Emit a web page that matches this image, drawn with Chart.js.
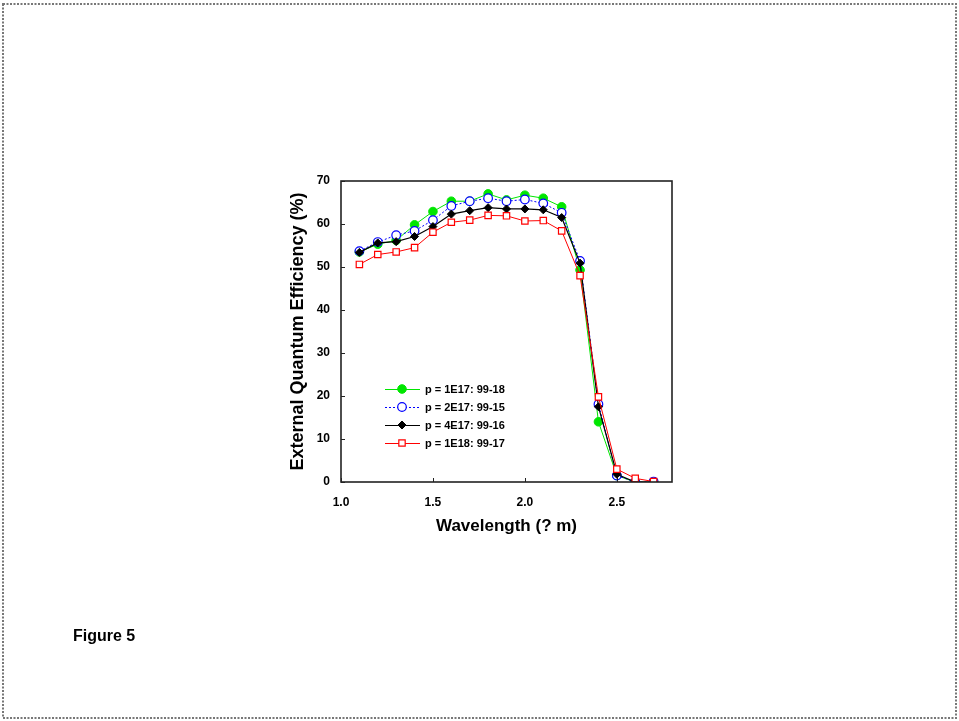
<!DOCTYPE html>
<html>
<head>
<meta charset="utf-8">
<title>Figure 5</title>
<script src="https://cdn.jsdelivr.net/npm/chart.js@4"></script>
<style>
    html, body { margin: 0; padding: 0; background: #fff; }
    #wrap { position: relative; width: 959px; height: 721px; }
</style>
</head>
<body>
<div id="wrap"><canvas id="eqeChart" width="959" height="721"></canvas></div>
<script>
// Wavelength (um) sampled in the measurement
const wavelengths = [1.1, 1.2, 1.3, 1.4, 1.5, 1.6, 1.7, 1.8, 1.9, 2.0, 2.1, 2.2, 2.3, 2.4, 2.5, 2.6, 2.7];

// External quantum efficiency (%) per sample
const eqe_1e17 = [53.5, 55.3, 56.2, 59.8, 62.9, 65.3, 65.3, 67.0, 65.6, 66.7, 66.0, 64.0, 49.3, 14.0, 1.5, 0.0, 0.0];
const eqe_2e17 = [53.7, 55.8, 57.4, 58.4, 60.9, 64.2, 65.3, 66.0, 65.3, 65.7, 64.8, 62.6, 51.4, 18.1, 1.5, 0.0, 0.1];
const eqe_4e17 = [53.4, 55.6, 55.9, 57.1, 59.4, 62.3, 63.1, 63.8, 63.5, 63.5, 63.3, 61.5, 50.9, 17.5, 1.8, 0.0, 0.0];
const eqe_1e18 = [50.6, 52.9, 53.5, 54.5, 58.1, 60.4, 60.9, 62.0, 61.9, 60.7, 60.8, 58.4, 48.0, 19.8, 3.0, 0.85, 0.1];

const seriesLabels = ["p = 1E17: 99-18", "p = 2E17: 99-15", "p = 4E17: 99-16", "p = 1E18: 99-17"];

const xTicks = [1.0, 1.5, 2.0, 2.5];
const yTicks = [0, 10, 20, 30, 40, 50, 60, 70];

const FONT = "Arial, 'Liberation Sans', sans-serif";

function toPoints(values) {
    return wavelengths.map((w, i) => ({ x: w, y: values[i] }));
}

const datasets = [
    {
        label: seriesLabels[0],
        data: toPoints(eqe_1e17),
        borderColor: "#00e600",
        backgroundColor: "#00e600",
        borderWidth: 1,
        pointStyle: "circle",
        pointRadius: 4.3,
        pointBorderWidth: 1,
        order: 4,
    },
    {
        label: seriesLabels[1],
        data: toPoints(eqe_2e17),
        borderColor: "#0000ff",
        backgroundColor: "#ffffff",
        borderWidth: 1,
        borderDash: [2, 2],
        pointStyle: "circle",
        pointRadius: 4.3,
        pointBorderWidth: 1.2,
        order: 3,
    },
    {
        label: seriesLabels[2],
        data: toPoints(eqe_4e17),
        borderColor: "#000000",
        backgroundColor: "#000000",
        borderWidth: 1.2,
        pointStyle: "rectRot",
        pointRadius: 4,
        pointBorderWidth: 1,
        order: 2,
    },
    {
        label: seriesLabels[3],
        data: toPoints(eqe_1e18),
        borderColor: "#ff0000",
        backgroundColor: "#ffffff",
        borderWidth: 1,
        pointStyle: "rect",
        pointRadius: 4.5,
        pointBorderWidth: 1.2,
        order: 1,
    },
];

// Frame, inward ticks, in-plot legend, page border and caption
const decorPlugin = {
    id: "decor",
    afterDatasetsDraw(chart) {
        const ctx = chart.ctx;
        const area = chart.chartArea;
        const xs = chart.scales.x;
        const ys = chart.scales.y;

        ctx.save();

        // plot frame
        ctx.strokeStyle = "#222";
        ctx.lineWidth = 1.6;
        ctx.setLineDash([]);
        ctx.strokeRect(area.left, area.top, area.right - area.left, area.bottom - area.top);

        // inward tick marks
        ctx.lineWidth = 1;
        ctx.beginPath();
        xTicks.forEach((v) => {
            const px = Math.round(xs.getPixelForValue(v)) + 0.5;
            ctx.moveTo(px, area.bottom);
            ctx.lineTo(px, area.bottom - 4);
        });
        yTicks.forEach((v) => {
            const py = Math.round(ys.getPixelForValue(v)) + 0.5;
            ctx.moveTo(area.left, py);
            ctx.lineTo(area.left + 4, py);
        });
        ctx.stroke();

        // legend inside the plot
        const lx0 = 385, lx1 = 420, lm = 402, ltext = 425;
        const rows = [389, 407, 425, 443];
        chart.data.datasets.forEach((ds, i) => {
            const y = rows[i];
            ctx.strokeStyle = ds.borderColor;
            ctx.lineWidth = ds.borderWidth;
            ctx.setLineDash(ds.borderDash || []);
            ctx.beginPath();
            ctx.moveTo(lx0, y + 0.5);
            ctx.lineTo(lx1, y + 0.5);
            ctx.stroke();
            ctx.setLineDash([]);
            ctx.fillStyle = ds.backgroundColor;
            ctx.lineWidth = ds.pointBorderWidth;
            Chart.helpers.drawPoint(ctx, {
                pointStyle: ds.pointStyle,
                radius: ds.pointRadius,
                borderWidth: ds.pointBorderWidth,
                rotation: 0,
            }, lm, y);
            ctx.fillStyle = "#000";
            ctx.font = "bold 11px " + FONT;
            ctx.textAlign = "left";
            ctx.textBaseline = "middle";
            ctx.fillText(ds.label, ltext, y + 0.5);
        });

        // page border
        ctx.strokeStyle = "#777";
        ctx.lineWidth = 2;
        ctx.setLineDash([2, 1.5]);
        ctx.strokeRect(3, 4, 953, 714);
        ctx.setLineDash([]);

        // caption
        ctx.fillStyle = "#000";
        ctx.font = "bold 16px " + FONT;
        ctx.textAlign = "left";
        ctx.textBaseline = "middle";
        ctx.fillText("Figure 5", 73, 637);

        ctx.restore();
    },
};

new Chart(document.getElementById("eqeChart"), {
    type: "line",
    data: { datasets },
    options: {
        responsive: false,
        maintainAspectRatio: false,
        animation: false,
        devicePixelRatio: 1,
        layout: { padding: { left: 287, top: 181, right: 287, bottom: 184 } },
        plugins: {
            legend: { display: false },
            tooltip: { enabled: false },
        },
        elements: { line: { tension: 0 } },
        scales: {
            x: {
                type: "linear",
                min: 1.0,
                max: 2.8,
                grid: { display: false, drawTicks: false },
                border: { display: false },
                ticks: {
                    stepSize: 0.5,
                    includeBounds: false,
                    padding: 13,
                    color: "#000",
                    font: { family: FONT, size: 12, weight: "bold" },
                    callback: (v) => Number(v).toFixed(1),
                },
                title: {
                    display: true,
                    text: "Wavelength (? m)",
                    color: "#000",
                    padding: 0,
                    font: { family: FONT, size: 17, weight: "bold" },
                },
                afterFit: (s) => { s.height = 55; },
            },
            y: {
                min: 0,
                max: 70,
                grid: { display: false, drawTicks: false },
                border: { display: false },
                ticks: {
                    stepSize: 10,
                    padding: 11,
                    color: "#000",
                    font: { family: FONT, size: 12, weight: "bold" },
                },
                title: {
                    display: true,
                    text: "External Quantum Efficiency (%)",
                    color: "#000",
                    padding: 0,
                    font: { family: FONT, size: 18, weight: "bold" },
                },
                afterFit: (s) => { s.width = 54; },
            },
        },
    },
    plugins: [decorPlugin],
});
</script>
</body>
</html>
